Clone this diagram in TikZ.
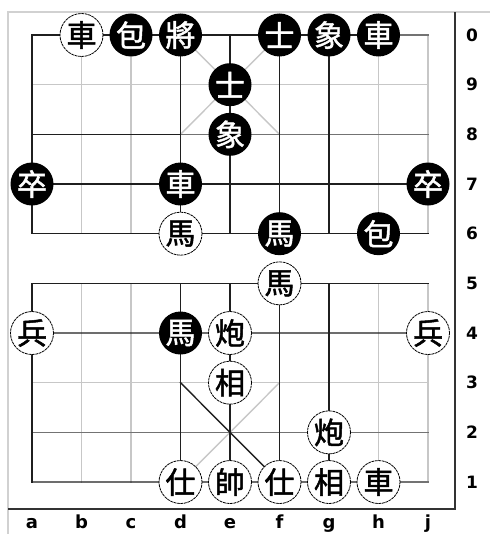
\documentclass[tikz,border=0pt]{standalone}
\usepackage{fontspec}
\newfontfamily\cjk{Noto Sans CJK TC}[AutoFakeBold=1.6]
\newfontfamily\labfont{DejaVu Sans}
\begin{document}
\begin{tikzpicture}[x=1pt,y=-1pt,line cap=rect,
  lt/.style={line width=1.4pt, black!22},
  md/.style={line width=1.4pt, black!55},
  dk/.style={line width=1.4pt, black!88},
  piece/.style={circle, minimum size=43pt, inner sep=0pt, font=\cjk\bfseries\fontsize{30}{30}\selectfont},
  bp/.style={piece, fill=black, text=white},
  wp/.style={piece, fill=white, draw=black, line width=0.8pt, dash pattern=on 2pt off 1.5pt},
  rowlab/.style={font=\labfont\bfseries\fontsize{17}{17}\selectfont, inner sep=0pt},
  collab/.style={font=\labfont\bfseries\fontsize{18}{18}\selectfont, inner sep=0pt, anchor=base}]
\useasboundingbox (0,0) rectangle (490,534);
\fill[white] (0,0) rectangle (490,534);
% frame
\draw[line width=2pt, black!18, line cap=butt] (8,534) -- (8,12) -- (490,12);
\draw[line width=2pt, black!80, line cap=butt] (8,509) -- (455,509) -- (455,12);
% grid points
\foreach \c [count=\i from 0] in {a,b,c,d,e,f,g,h,j}
  \foreach \r [count=\k from 0] in {0,9,8,7,6,5,4,3,2,1}
    \coordinate (\c\r) at ({32+49.5*\i},{35+49.67*\k});
% light lines
\draw[lt] (b0)--(b6) (c0)--(c6) (h0)--(h6) (j0)--(j6);
\draw[lt] (b5)--(b1) (c5)--(c1) (h5)--(h1) (j5)--(j1);
\draw[lt] (a9)--(j9) (a3)--(j3);
\draw[lt] (d0)--(f8) (f0)--(d8) (f3)--(d1);
% medium lines
\draw[md] (h0)--(j0) (d8)--(j8) (a2)--(j2) (h1)--(j1);
% dark lines
\draw[dk] (a6)--(a0)--(h0);
\draw[dk] (a8)--(d8) (a7)--(j7) (a6)--(j6);
\draw[dk] (d0)--(d6) (e0)--(e6) (f0)--(f6) (g0)--(g6);
\draw[dk] (a1)--(a5)--(j5);
\draw[dk] (d5)--(d1) (e5)--(e1) (f5)--(f1) (g5)--(g1);
\draw[dk] (a4)--(j4) (a1)--(h1) (d3)--(f1);
% black pieces
\node[bp] (pc0) at (c0) {包};
\node[bp] (pd0) at (d0) {將};
\node[bp] (pf0) at (f0) {士};
\node[bp] (pg0) at (g0) {象};
\node[bp] (ph0) at (h0) {車};
\node[bp] (pe9) at (e9) {士};
\node[bp] (pe8) at (e8) {象};
\node[bp] (pa7) at (a7) {卒};
\node[bp] (pd7) at (d7) {車};
\node[bp] (pj7) at (j7) {卒};
\node[bp] (pf6) at (f6) {馬};
\node[bp] (ph6) at (h6) {包};
\node[bp] (pd4) at (d4) {馬};
% white pieces
\node[wp] (pb0) at (b0) {車};
\node[wp] (pd6) at (d6) {馬};
\node[wp] (pf5) at (f5) {馬};
\node[wp] (pa4) at (a4) {兵};
\node[wp] (pe4) at (e4) {炮};
\node[wp] (pj4) at (j4) {兵};
\node[wp] (pe3) at (e3) {相};
\node[wp] (pg2) at (g2) {炮};
\node[wp] (pd1) at (d1) {仕};
\node[wp] (pe1) at (e1) {帥};
\node[wp] (pf1) at (f1) {仕};
\node[wp] (pg1) at (g1) {相};
\node[wp] (ph1) at (h1) {車};
% labels
\foreach \r in {0,9,8,7,6,5,4,3,2,1}
  \path (j\r) ++(44,0) node[rowlab] (rl\r) {\r};
\foreach \c in {a,b,c,d,e,f,g,h,j}
  \path (\c1) ++(0,46) node[collab] (cl\c) {\c};
\end{tikzpicture}
\end{document}
